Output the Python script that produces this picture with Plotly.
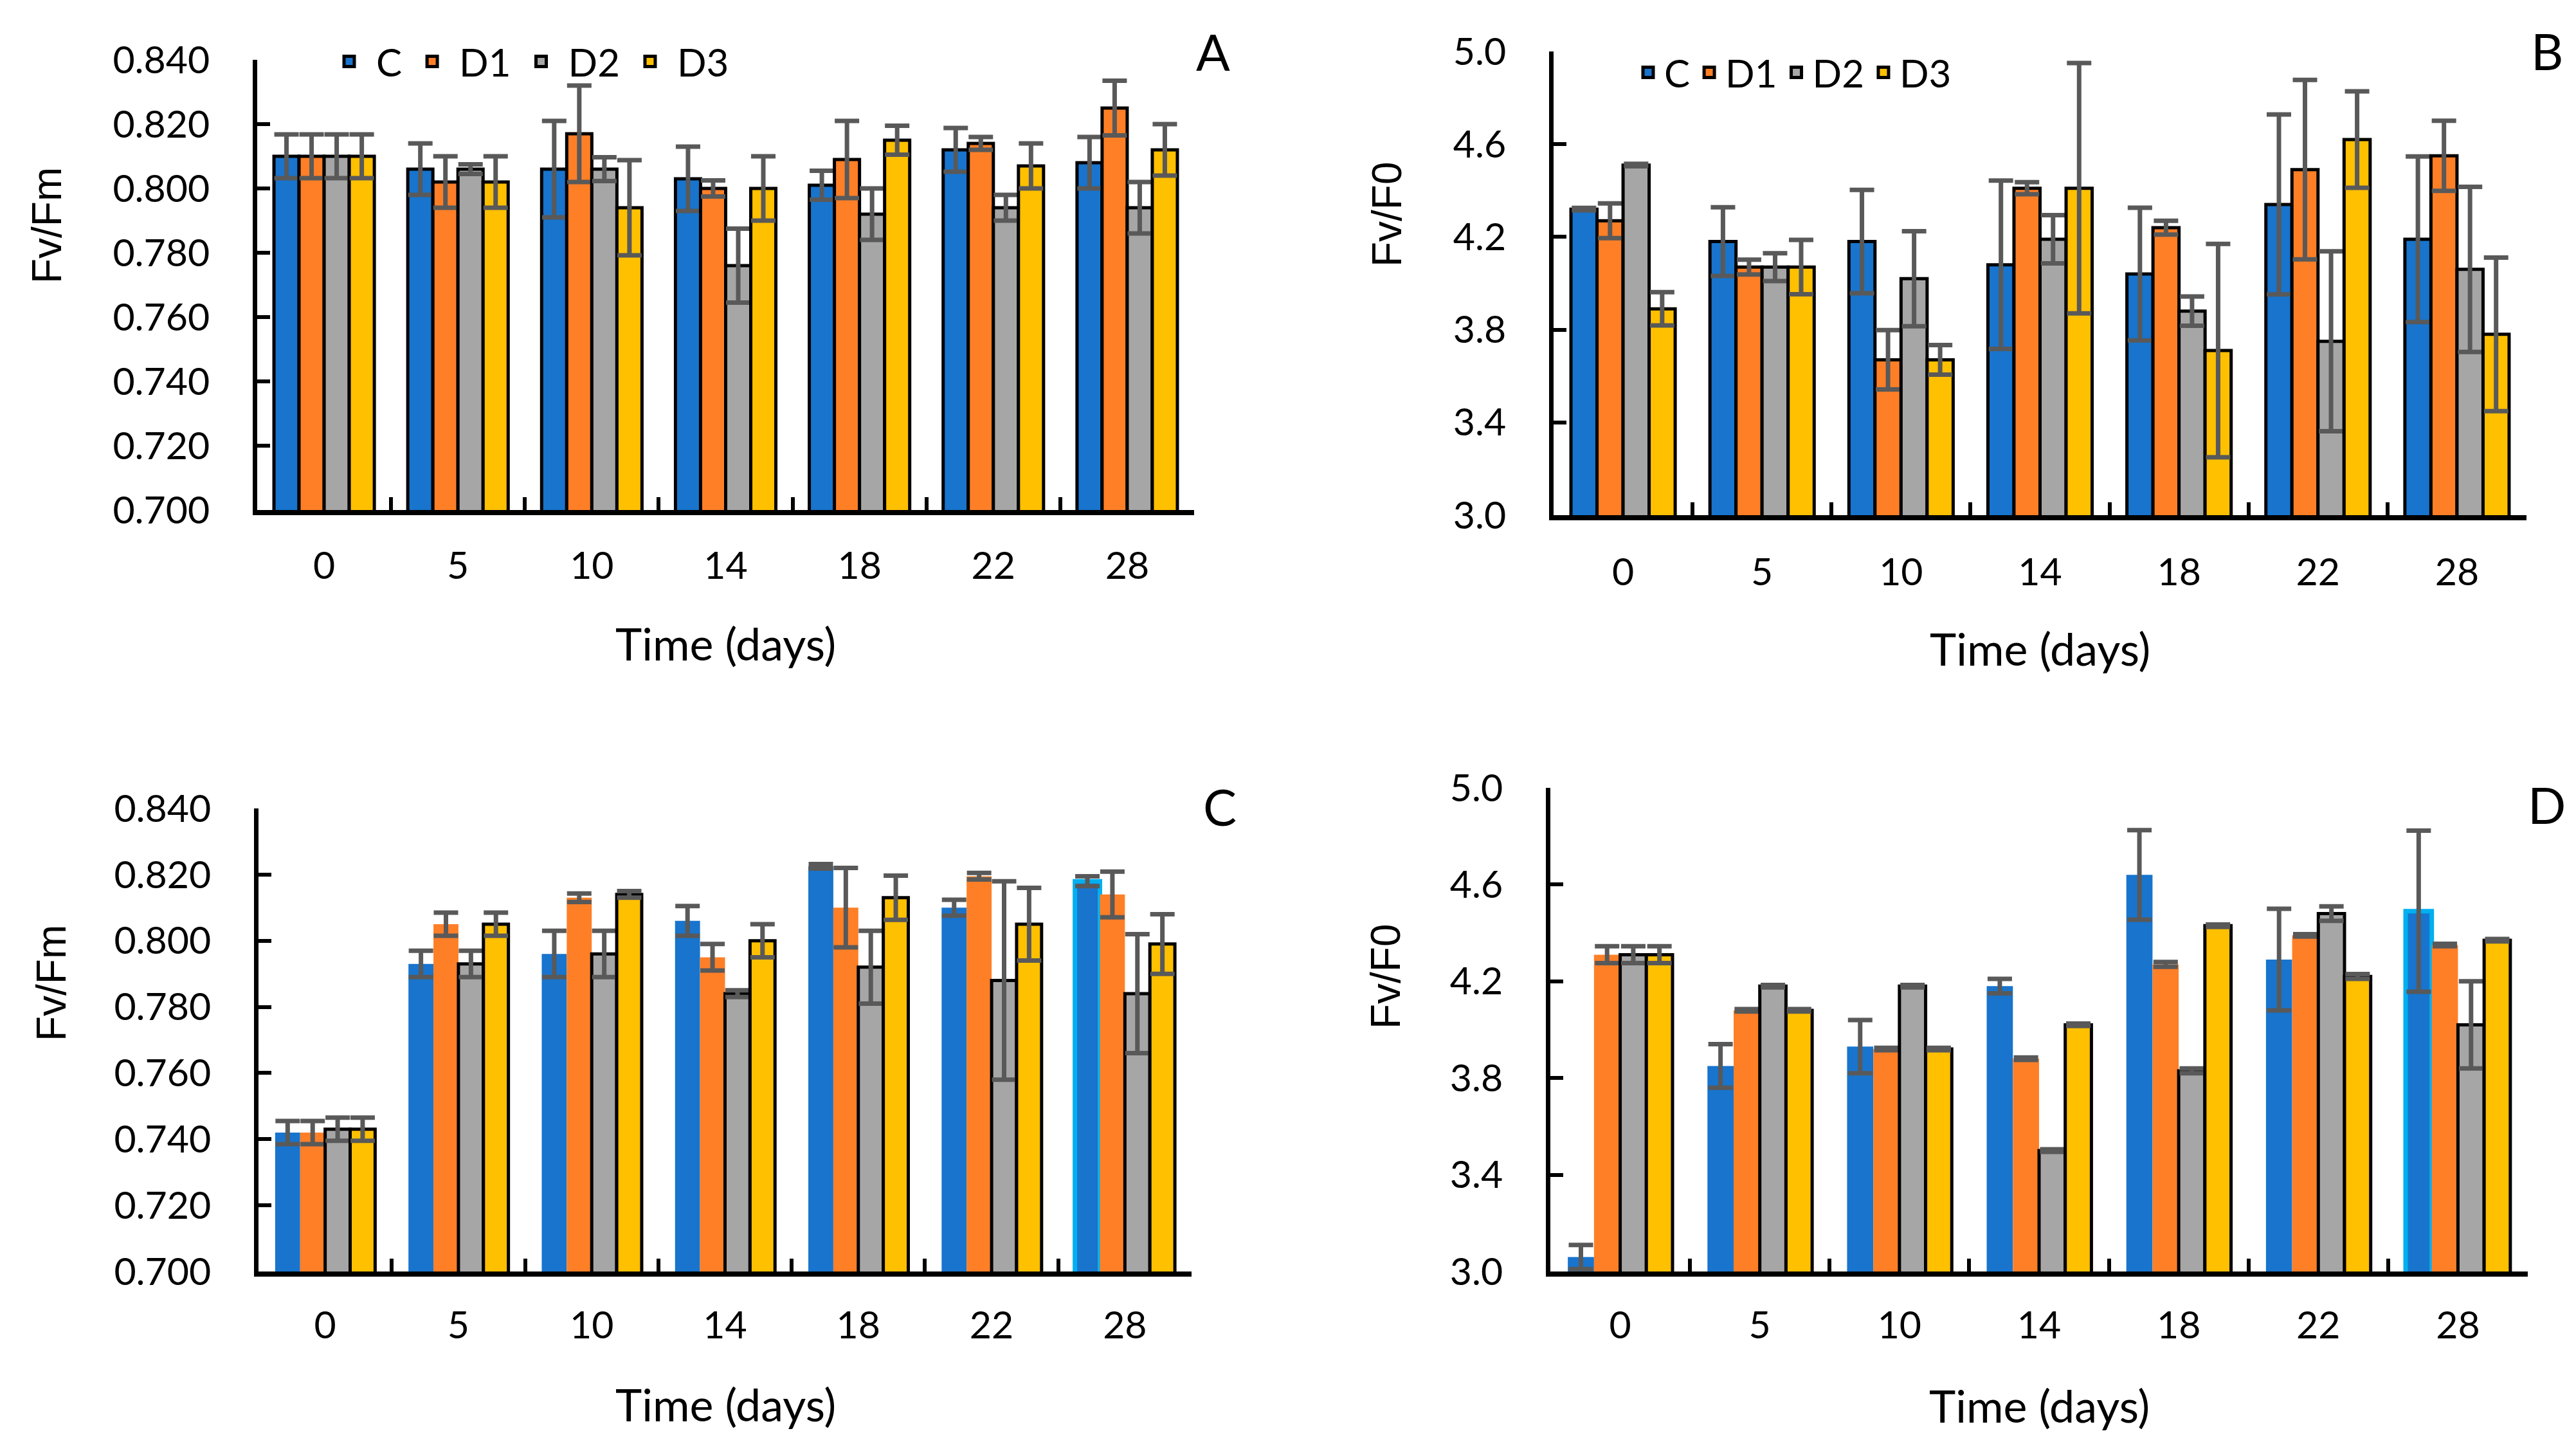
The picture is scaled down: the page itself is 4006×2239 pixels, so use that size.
import plotly.graph_objects as go

days = ["0", "5", "10", "14", "18", "22", "28"]
series = ["C", "D1", "D2", "D3"]

# Panel A  (Fv/Fm)
a_C  = [0.810, 0.806, 0.806, 0.803, 0.801, 0.812, 0.808]
a_D1 = [0.810, 0.802, 0.817, 0.800, 0.809, 0.814, 0.825]
a_D2 = [0.810, 0.806, 0.806, 0.776, 0.792, 0.794, 0.794]
a_D3 = [0.810, 0.802, 0.794, 0.800, 0.815, 0.807, 0.812]
a_C_err  = [0.0068, 0.008, 0.015, 0.010, 0.0045, 0.0068, 0.008]
a_D1_err = [0.0068, 0.008, 0.015, 0.0025, 0.012, 0.002, 0.0085]
a_D2_err = [0.0068, 0.0015, 0.0037, 0.0115, 0.008, 0.004, 0.008]
a_D3_err = [0.0068, 0.008, 0.0148, 0.010, 0.0045, 0.007, 0.008]

# Panel B  (Fv/F0)
b_C  = [4.32, 4.18, 4.18, 4.08, 4.04, 4.34, 4.19]
b_D1 = [4.27, 4.07, 3.67, 4.41, 4.24, 4.49, 4.55]
b_D2 = [4.51, 4.07, 4.02, 4.19, 3.88, 3.75, 4.06]
b_D3 = [3.89, 4.07, 3.67, 4.41, 3.71, 4.62, 3.78]
b_C_err  = [0.005, 0.148, 0.223, 0.363, 0.286, 0.388, 0.357]
b_D1_err = [0.075, 0.032, 0.128, 0.026, 0.030, 0.387, 0.151]
b_D2_err = [0.005, 0.060, 0.205, 0.104, 0.063, 0.388, 0.356]
b_D3_err = [0.072, 0.117, 0.064, 0.540, 0.460, 0.208, 0.331]

# Panel C  (Fv/Fm)
c_C  = [0.742, 0.793, 0.796, 0.806, 0.8225, 0.810, 0.818]
c_D1 = [0.742, 0.805, 0.813, 0.795, 0.810, 0.8195, 0.814]
c_D2 = [0.743, 0.793, 0.796, 0.784, 0.792, 0.788, 0.784]
c_D3 = [0.743, 0.805, 0.814, 0.800, 0.813, 0.805, 0.799]
c_C_err  = [0.0035, 0.004, 0.007, 0.0045, 0.0007, 0.0024, 0.0015]
c_D1_err = [0.0035, 0.0035, 0.0013, 0.004, 0.012, 0.001, 0.0069]
c_D2_err = [0.0035, 0.004, 0.007, 0.001, 0.011, 0.030, 0.018]
c_D3_err = [0.0035, 0.0035, 0.001, 0.005, 0.0067, 0.011, 0.009]

# Panel D  (Fv/F0)
d_C  = [3.06, 3.85, 3.93, 4.18, 4.64, 4.29, 4.49]
d_D1 = [4.31, 4.08, 3.92, 3.88, 4.27, 4.39, 4.35]
d_D2 = [4.31, 4.18, 4.18, 3.50, 3.83, 4.48, 4.02]
d_D3 = [4.31, 4.08, 3.92, 4.02, 4.43, 4.22, 4.37]
d_C_err  = [0.05, 0.09, 0.11, 0.03, 0.185, 0.21, 0.333]
d_D1_err = [0.035, 0.005, 0.005, 0.005, 0.01, 0.005, 0.005]
d_D2_err = [0.035, 0.005, 0.005, 0.005, 0.01, 0.03, 0.18]
d_D3_err = [0.035, 0.005, 0.005, 0.005, 0.005, 0.01, 0.005]

colors = {"C": "#1874CD", "D1": "#FF7F27", "D2": "#A6A6A6", "D3": "#FFC000"}
ERR_COLOR = "#595959"

panels = [
    ("x", "y", [a_C, a_D1, a_D2, a_D3], [a_C_err, a_D1_err, a_D2_err, a_D3_err], "legend", "A"),
    ("x2", "y2", [b_C, b_D1, b_D2, b_D3], [b_C_err, b_D1_err, b_D2_err, b_D3_err], "legend2", "B"),
    ("x3", "y3", [c_C, c_D1, c_D2, c_D3], [c_C_err, c_D1_err, c_D2_err, c_D3_err], None, "C"),
    ("x4", "y4", [d_C, d_D1, d_D2, d_D3], [d_C_err, d_D1_err, d_D2_err, d_D3_err], None, "D"),
]

fig = go.Figure()
for xa, ya, vals, errs, leg, tag in panels:
    for s, v, e in zip(series, vals, errs):
        if tag in ("A", "B"):
            line = dict(color="black", width=5)
        else:
            if s in ("D2", "D3"):
                line = dict(color="black", width=5)
            elif s == "C":
                line = dict(color=[colors["C"]] * 6 + ["#00B0F0"], width=[0] * 6 + [7])
            else:
                line = dict(color=colors[s], width=0)
        fig.add_trace(go.Bar(
            x=days, y=v, name=s, xaxis=xa, yaxis=ya,
            marker=dict(color=colors[s], line=line),
            error_y=dict(type="data", array=e, visible=True, color=ERR_COLOR,
                         thickness=7, width=19),
            showlegend=False,
        ))
    if leg:
        # legend entries (square keys, larger than plotly's default bar key)
        for s in series:
            fig.add_trace(go.Scatter(
                x=[None], y=[None], mode="markers", name=s, xaxis=xa, yaxis=ya,
                marker=dict(symbol="square", size=16, color=colors[s],
                            line=dict(color="black", width=5)),
                legend=leg, showlegend=True, hoverinfo="skip",
            ))

# page body has an 8px margin; work in reference-pixel coordinates
OFF = 8
W, H = 4006 - 2 * OFF, 2239 - 2 * OFF
def px(v): return (v - OFF) / W
def py(v): return 1 - (v - OFF) / H

TICKF = dict(family="Lato, sans-serif", size=59, color="black")

def xaxis(dom, anchor, standoff=25):
    return dict(domain=dom, anchor=anchor, type="category", categoryorder="array",
                categoryarray=days, showline=True, linewidth=8,
                linecolor="black", ticks="inside", ticklen=20, tickwidth=6, tickcolor="black",
                tickson="boundaries", tickfont=TICKF, showgrid=False, zeroline=False,
                ticklabelstandoff=standoff, automargin=False, fixedrange=True)

def yaxis(dom, anchor, rng, dtick, fmt):
    return dict(domain=dom, anchor=anchor, range=rng, dtick=dtick, tick0=rng[0], tickformat=fmt,
                showline=True, linewidth=7, linecolor="black", ticks="inside", ticklen=20,
                tickwidth=6, tickcolor="black", tickfont=TICKF, showgrid=False,
                zeroline=False, ticklabelstandoff=55, automargin=False, fixedrange=True)

fig.update_layout(
    width=W, height=H, margin=dict(l=0, r=0, t=0, b=0, autoexpand=False),
    paper_bgcolor="white", plot_bgcolor="white",
    barmode="group", bargap=0.25, bargroupgap=0,
    xaxis=xaxis([px(400), px(1857)], "y", 28),
    yaxis=yaxis([py(793), py(93)], "x", [0.700, 0.840], 0.02, ".3f"),
    xaxis2=xaxis([px(2416), px(3929)], "y2", 30),
    yaxis2=yaxis([py(801), py(80)], "x2", [3.0, 5.0], 0.4, ".1f"),
    xaxis3=xaxis([px(402), px(1853)], "y3"),
    yaxis3=yaxis([py(1977), py(1257)], "x3", [0.700, 0.840], 0.02, ".3f"),
    xaxis4=xaxis([px(2411), px(3931)], "y4"),
    yaxis4=yaxis([py(1977), py(1225)], "x4", [3.0, 5.0], 0.4, ".1f"),
    legend=dict(orientation="h", x=px(501), y=py(50), xanchor="left", yanchor="top",
                font=dict(family="Lato, sans-serif", size=60, color="black"),
                bgcolor="rgba(0,0,0,0)", itemwidth=74, traceorder="normal"),
    legend2=dict(orientation="h", x=px(2538), y=py(67), xanchor="left", yanchor="top",
                 font=dict(family="Lato, sans-serif", size=60, color="black"),
                 bgcolor="rgba(0,0,0,0)", itemwidth=40, traceorder="normal"),
    font=dict(family="Lato, sans-serif", color="black"),
)

ann = []
# panel letters
for txt, x, y in [("A", 1886, 80), ("B", 3961, 79), ("C", 1897, 1254), ("D", 3960, 1251)]:
    ann.append(dict(text=txt, x=px(x), y=py(y), xref="paper", yref="paper", showarrow=False,
                    xanchor="center", yanchor="middle",
                    font=dict(family="Lato, sans-serif", size=78, color="black")))
# x titles
for x, y in [(1128, 1000), (3172, 1008), (1128, 2183), (3171, 2185)]:
    ann.append(dict(text="Time (days)", x=px(x), y=py(y), xref="paper", yref="paper",
                    showarrow=False, xanchor="center", yanchor="middle",
                    font=dict(family="Lato, sans-serif", size=70, color="black")))
# y titles
for txt, x, y in [("Fv/Fm", 73, 351), ("Fv/F0", 2157, 333), ("Fv/Fm", 80, 1529), ("Fv/F0", 2155, 1518)]:
    ann.append(dict(text=txt, x=px(x), y=py(y), xref="paper", yref="paper", showarrow=False,
                    textangle=-90, xanchor="center", yanchor="middle",
                    font=dict(family="Liberation Sans, Arial, sans-serif", size=64, color="black")))
fig.update_layout(annotations=ann)

fig.write_html("out.html")
